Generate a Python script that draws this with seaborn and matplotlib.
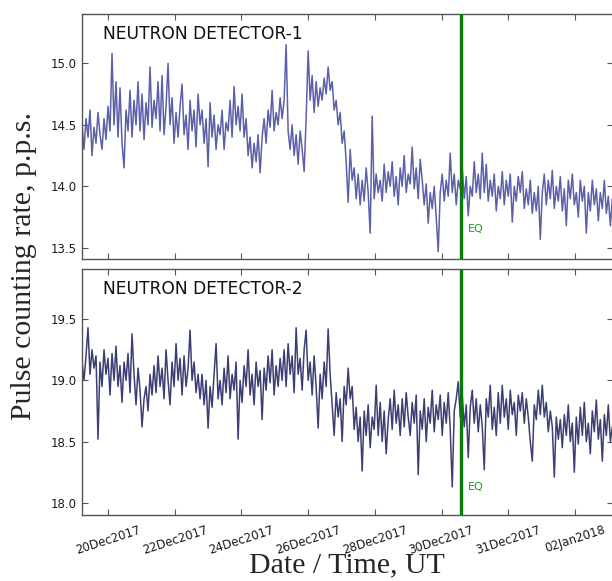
import numpy as np
import pandas as pd
import matplotlib
matplotlib.use("Agg")
import matplotlib.pyplot as plt
import seaborn as sns

# ---------------- data ----------------
TICK_LABELS = ["20Dec2017", "22Dec2017", "24Dec2017", "26Dec2017",
               "28Dec2017", "30Dec2017", "31Dec2017", "02Jan2018"]
TICK_DAYS = [0, 2, 4, 6, 8, 10, 12, 14]
EQ_DAY = 10.58
T_START = -0.78   # days relative to 20Dec2017 tick
T_STEP = 0.06     # days between samples

DET1 = [
    14.50, 14.30, 14.55, 14.40, 14.62, 14.25, 14.48, 14.35, 14.60, 14.42,
    14.30, 14.55, 14.38, 14.65, 14.45, 15.08, 14.50, 14.85, 14.40, 14.80,
    14.35, 14.15, 14.62, 14.45, 14.78, 14.40, 14.70, 14.50, 14.85, 14.45,
    14.75, 14.38, 14.68, 14.50, 14.97, 14.48, 14.70, 14.55, 14.85, 14.45,
    14.90, 14.42, 14.65, 15.00, 14.50, 14.72, 14.35, 14.60, 14.40, 14.65,
    14.83, 14.42, 14.58, 14.30, 14.70, 14.45, 14.62, 14.32, 14.75, 14.50,
    14.62, 14.35, 14.55, 14.16, 14.68, 14.40, 14.58, 14.30, 14.50, 14.42,
    14.62, 14.30, 14.52, 14.45, 14.70, 14.40, 14.81, 14.50, 14.65, 14.45,
    14.75, 14.40, 14.55, 14.25, 14.40, 14.15, 14.35, 14.20, 14.42, 14.11,
    14.40, 14.55, 14.35, 14.62, 14.48, 14.78, 14.45, 14.60, 14.50, 14.72,
    14.55, 14.70, 15.15, 14.45, 14.30, 14.50, 14.25, 14.42, 14.18, 14.45,
    14.30, 14.12, 14.55, 15.10, 14.70, 14.90, 14.60, 14.85, 14.65, 14.80,
    14.70, 14.88, 14.75, 14.97, 14.78, 14.85, 14.62, 14.70, 14.50, 14.60,
    14.35, 14.45, 14.20, 13.87, 14.30, 14.05, 14.15, 13.90, 14.10, 13.85,
    14.05, 13.88, 14.15, 13.95, 13.62, 14.57, 13.90, 14.10, 13.95, 14.05,
    13.88, 14.18, 13.95, 14.12, 14.00, 14.20, 13.92, 14.08, 13.85, 14.15,
    14.00, 14.25, 13.95, 14.10, 14.02, 14.32, 13.98, 14.15, 13.90, 14.22,
    14.05, 13.85, 14.02, 13.70, 13.95, 13.82, 14.00, 13.75, 13.47, 13.95,
    14.10, 13.88, 14.05, 13.92, 14.27, 13.95, 14.10, 13.85, 14.05, 13.98,
    14.15, 13.90, 14.08, 13.76, 14.00, 13.92, 14.20, 13.95, 14.10, 13.90,
    14.27, 13.95, 14.18, 13.88, 14.05, 13.92, 14.10, 13.80, 14.00, 13.90,
    14.12, 13.85, 14.05, 13.92, 14.10, 13.71, 14.00, 13.88, 14.08, 13.95,
    14.12, 13.82, 13.98, 13.85, 14.05, 13.78, 13.95, 13.80, 14.00, 13.57,
    13.95, 14.10, 13.85, 14.05, 13.90, 14.13, 13.82, 14.00, 13.88, 14.08,
    13.80, 13.98, 13.68, 14.05, 13.90, 14.10, 13.85, 13.95, 13.75, 14.05,
    13.88, 14.00, 13.62, 13.95, 13.80, 14.05, 13.85, 13.98, 13.72, 13.95,
    13.82, 14.05, 13.78, 13.92, 13.68, 13.90,
]

DET2 = [
    19.15, 19.00, 19.20, 19.43, 19.05, 19.25, 19.10, 19.20, 18.52, 19.15,
    18.95, 19.25, 19.05, 19.18, 18.88, 19.22, 19.00, 19.28, 18.95, 19.12,
    18.82, 19.15, 19.00, 19.22, 18.90, 19.38, 19.05, 18.80, 19.10, 18.92,
    18.62, 18.85, 18.95, 18.75, 19.05, 18.88, 19.12, 18.90, 19.20, 18.95,
    19.10, 18.85, 19.25, 19.00, 18.80, 19.15, 18.95, 19.30, 19.00, 19.18,
    18.88, 19.20, 18.95, 19.10, 19.41, 19.00, 19.15, 18.90, 19.05, 18.85,
    19.05, 18.80, 19.00, 18.61, 18.95, 18.78, 19.05, 19.30, 18.85, 19.00,
    18.80, 19.10, 18.90, 19.20, 18.85, 19.05, 18.92, 19.15, 18.52, 19.00,
    18.82, 19.12, 18.95, 19.25, 18.88, 19.05, 18.80, 19.15, 18.95, 19.08,
    18.68, 19.10, 18.92, 19.20, 18.98, 19.25, 18.88, 19.12, 18.95, 19.18,
    19.00, 19.25, 18.95, 19.30, 19.05, 19.20, 18.90, 19.43, 19.05, 19.18,
    18.92, 19.25, 19.41, 19.00, 19.15, 18.88, 19.20, 18.95, 18.61, 19.05,
    18.85, 19.15, 18.95, 19.42, 19.05, 18.80, 18.55, 18.90, 18.70, 18.85,
    18.50, 18.95, 18.80, 19.10, 18.85, 18.95, 18.60, 18.78, 18.50, 18.70,
    18.26, 18.75, 18.55, 18.80, 18.45, 18.70, 18.60, 18.96, 18.55, 18.82,
    18.50, 18.75, 18.40, 18.68, 18.85, 18.60, 18.92, 18.65, 18.80, 18.55,
    18.85, 18.62, 18.90, 18.70, 18.55, 18.82, 18.65, 18.88, 18.23, 18.75,
    18.60, 18.85, 18.50, 18.78, 18.65, 18.92, 18.58, 18.80, 18.68, 18.88,
    18.55, 18.82, 18.65, 18.90, 18.60, 18.13, 18.75, 18.85, 18.99, 18.70,
    18.88, 18.62, 18.80, 18.37, 18.78, 18.92, 18.65, 18.85, 18.58, 18.80,
    18.62, 18.27, 18.85, 18.70, 18.96, 18.60, 18.78, 18.55, 18.90, 18.65,
    18.96, 18.70, 18.85, 18.60, 18.92, 18.72, 18.82, 18.55, 18.88, 18.75,
    18.90, 18.65, 18.85, 18.70, 18.50, 18.34, 18.80, 18.68, 18.92, 18.72,
    18.96, 18.70, 18.82, 18.58, 18.75, 18.62, 18.21, 18.70, 18.52, 18.68,
    18.45, 18.72, 18.55, 18.80, 18.50, 18.65, 18.25, 18.70, 18.48, 18.78,
    18.55, 18.82, 18.50, 18.65, 18.40, 18.75, 18.58, 18.84, 18.52, 18.68,
    18.34, 18.72, 18.55, 18.80, 18.50, 18.62,
]

TITLES = ["NEUTRON DETECTOR-1", "NEUTRON DETECTOR-2"]
YTICKS = [[13.5, 14.0, 14.5, 15.0], [18.0, 18.5, 19.0, 19.5]]
YLIMS = [(13.41, 15.40), (17.90, 19.91)]
EQ_TEXT_Y = [13.65, 18.13]

# ---------------- plot ----------------
sns.set_theme(style="white")
plt.rcParams["font.family"] = ["DejaVu Sans"]

fig = plt.figure(figsize=(6.12, 5.81), dpi=100)
W = 612.0
H = 581.0
ax1 = fig.add_axes([82 / W, 1 - 259 / H, 531 / W, 245 / H])
ax2 = fig.add_axes([82 / W, 1 - 515 / H, 531 / W, 246 / H])

t = T_START + T_STEP * np.arange(len(DET1))
df = pd.DataFrame({"t": t, "d1": DET1, "d2": DET2})

colors = ["#5c60a8", "#3c3f74"]
for i, (ax, col) in enumerate(zip([ax1, ax2], ["d1", "d2"])):
    sns.lineplot(data=df, x="t", y=col, ax=ax, color=colors[i], lw=1.1)
    ax.set_xlim(-0.78, 15.14)
    ax.set_ylim(*YLIMS[i])
    ax.set_yticks(YTICKS[i])
    ax.set_yticklabels([f"{v:.1f}" for v in YTICKS[i]], fontsize=8.5,
                       color="#1a1a1a")
    ax.set_xticks(TICK_DAYS)
    ax.set_xlabel("")
    ax.set_ylabel("")
    ax.axvline(EQ_DAY, color="#0a7a0a", lw=2.4, zorder=5)
    ax.text(EQ_DAY + 0.2, EQ_TEXT_Y[i], "EQ", color="#1f9a1f", fontsize=8,
            ha="left", va="center")
    ax.text(0.04, 0.92, TITLES[i], transform=ax.transAxes, fontsize=12.3,
            ha="left", va="center", color="#111111")
    ax.tick_params(direction="in", length=4, width=0.8, color="#555555",
                   top=True, right=True, bottom=True, left=True, pad=4)
    for s in ax.spines.values():
        s.set_color("#555555")
        s.set_linewidth(1.0)

ax1.set_xticklabels([])
ax2.set_xticklabels(TICK_LABELS, rotation=18, fontsize=8.5, ha="center",
                    color="#1a1a1a")
ax2.tick_params(axis="x", pad=6)

fig.text(24 / W, 1 - 266 / H, "Pulse counting rate, p.p.s.", rotation=90,
         ha="center", va="center", fontsize=21.5, family=["Liberation Serif"])
fig.text(347 / W, 1 - 565 / H, "Date / Time, UT", ha="center", va="center",
         fontsize=21.5, family=["Liberation Serif"])

fig.savefig("out.png", dpi=100)
